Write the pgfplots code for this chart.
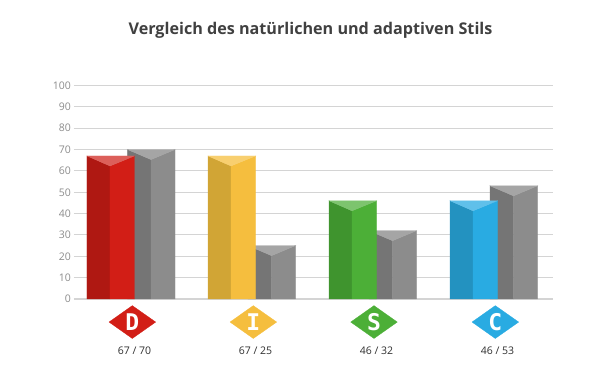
\documentclass[border=0pt]{standalone}
\usepackage{pgfplots}
\usepackage{fontspec}
\setmainfont{Open Sans}
\newfontfamily\letterfont{DejaVu Sans Mono}
\pgfplotsset{compat=1.18}
\definecolor{gr}{HTML}{8C8C8C}\definecolor{grl}{HTML}{757575}\definecolor{grt}{HTML}{A5A5A5}
\definecolor{re}{HTML}{D21E16}\definecolor{rel}{HTML}{AF1812}\definecolor{ret}{HTML}{DC5F5A}
\definecolor{ye}{HTML}{F5BE3E}\definecolor{yel}{HTML}{D1A535}\definecolor{yet}{HTML}{F8CF6F}
\definecolor{gn}{HTML}{4CAF37}\definecolor{gnl}{HTML}{3F942E}\definecolor{gnt}{HTML}{7DC46E}
\definecolor{bl}{HTML}{29ABE2}\definecolor{bll}{HTML}{2392C0}\definecolor{blt}{HTML}{60C0EA}
\newcommand\face[2]{\addplot[fill=#1,draw=#1,line width=0.25pt,forget plot] coordinates {#2} -- cycle;}
\begin{document}
\begin{tikzpicture}[x=1pt,y=1pt]
\begin{axis}[
  at={(0pt,0pt)},anchor=origin,
  scale only axis,width=479pt,height=213.5pt,
  xmin=74,xmax=553,ymin=0,ymax=100,
  clip=false,
  axis line style={draw=none},
  xtick=\empty,
  ytick={0,10,...,100},
  major tick length=0pt,
  ymajorgrids,
  grid style={draw=black!17,line width=1.1pt},
  /pgf/number format/assume math mode=true,
  yticklabel style={font=\fontsize{10.5}{12}\selectfont,text=black!45,inner sep=0pt,xshift=-3pt},
]
% D
\face{grl}{(127.5,0)(127.5,70)(151,65.3)(151,0)}
\face{gr}{(151,0)(151,65.3)(175,70)(175,0)}
\face{grt}{(127.5,70)(151,65.3)(175,70)}
\face{rel}{(87,0)(87,67)(110,62.3)(110,0)}
\face{re}{(110,0)(110,62.3)(134.5,67)(134.5,0)}
\face{ret}{(87,67)(110,62.3)(134.5,67)}
% I
\face{grl}{(248,0)(248,25)(271.5,20.3)(271.5,0)}
\face{gr}{(271.5,0)(271.5,20.3)(295.5,25)(295.5,0)}
\face{grt}{(248,25)(271.5,20.3)(295.5,25)}
\face{yel}{(208,0)(208,67)(231,62.3)(231,0)}
\face{ye}{(231,0)(231,62.3)(255.5,67)(255.5,0)}
\face{yet}{(208,67)(231,62.3)(255.5,67)}
% S
\face{grl}{(369,0)(369,32)(392.5,27.3)(392.5,0)}
\face{gr}{(392.5,0)(392.5,27.3)(416.5,32)(416.5,0)}
\face{grt}{(369,32)(392.5,27.3)(416.5,32)}
\face{gnl}{(329,0)(329,46)(352,41.3)(352,0)}
\face{gn}{(352,0)(352,41.3)(376.5,46)(376.5,0)}
\face{gnt}{(329,46)(352,41.3)(376.5,46)}
% C
\face{grl}{(490,0)(490,53)(513.5,48.3)(513.5,0)}
\face{gr}{(513.5,0)(513.5,48.3)(537.5,53)(537.5,0)}
\face{grt}{(490,53)(513.5,48.3)(537.5,53)}
\face{bll}{(450,0)(450,46)(473,41.3)(473,0)}
\face{bl}{(473,0)(473,41.3)(497.5,46)(497.5,0)}
\face{blt}{(450,46)(473,41.3)(497.5,46)}
% diamonds
\face{re}{(109,-10.8)(132.3,-3.1)(155.7,-10.8)(132.3,-18.5)}
\face{ye}{(230,-10.8)(253.3,-3.1)(276.7,-10.8)(253.3,-18.5)}
\face{gn}{(350.7,-10.8)(374,-3.1)(397.3,-10.8)(374,-18.5)}
\face{bl}{(472,-10.8)(495.3,-3.1)(518.7,-10.8)(495.3,-18.5)}
\node[text=white,inner sep=0pt,font=\fontsize{23}{26}\selectfont\letterfont\bfseries] at (axis cs:132.3,-10.9) {D};
\node[text=white,inner sep=0pt,font=\fontsize{23}{26}\selectfont\letterfont\bfseries] at (axis cs:253.3,-10.9) {I};
\node[text=white,inner sep=0pt,font=\fontsize{23}{26}\selectfont\letterfont\bfseries] at (axis cs:374,-10.9) {S};
\node[text=white,inner sep=0pt,font=\fontsize{23}{26}\selectfont\letterfont\bfseries] at (axis cs:495.3,-10.9) {C};
\node[text=black!82,inner sep=0pt,font=\fontsize{10.5}{12}\selectfont] at (axis cs:134.5,-24.3) {67 / 70};
\node[text=black!82,inner sep=0pt,font=\fontsize{10.5}{12}\selectfont] at (axis cs:255.5,-24.3) {67 / 25};
\node[text=black!82,inner sep=0pt,font=\fontsize{10.5}{12}\selectfont] at (axis cs:376.5,-24.3) {46 / 32};
\node[text=black!82,inner sep=0pt,font=\fontsize{10.5}{12}\selectfont] at (axis cs:497.5,-24.3) {46 / 53};
\node[text=black!75,inner sep=0pt,font=\fontsize{16.15}{18}\selectfont\bfseries] at (axis cs:310.5,126) {Vergleich des natürlichen und adaptiven Stils};
\end{axis}
\path[use as bounding box] (-74pt,-75pt) rectangle (526pt,299pt);
\end{tikzpicture}
\end{document}
